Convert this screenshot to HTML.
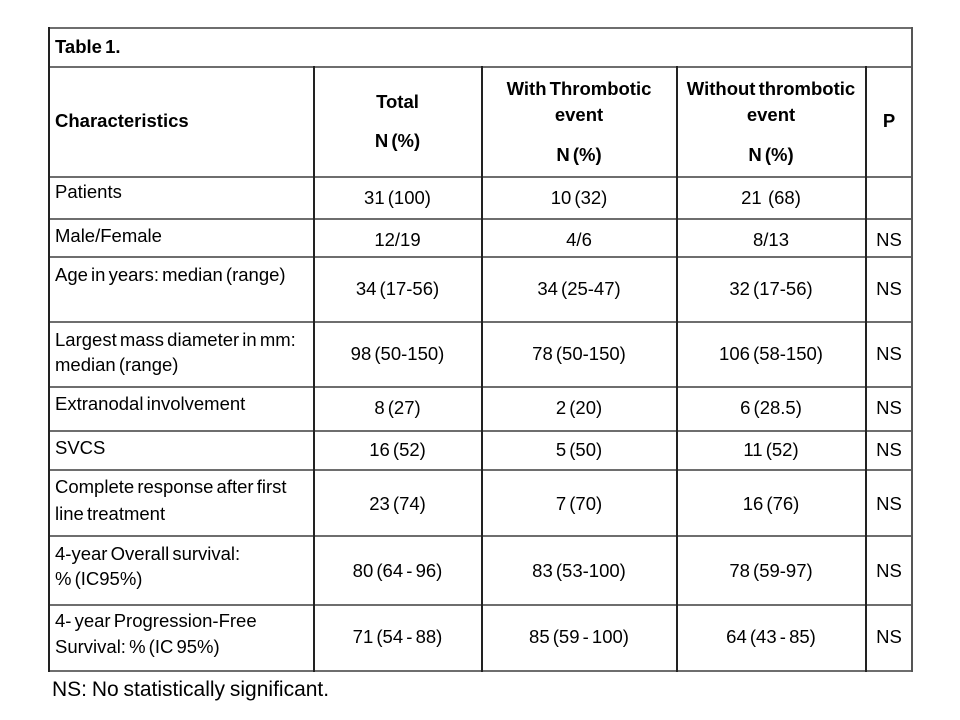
<!DOCTYPE html>
<html><head><meta charset="utf-8"><style>
body{margin:0;width:960px;height:720px;background:#fff;position:relative;overflow:hidden;font-family:"Liberation Sans",Arial,sans-serif;font-size:18.5px;color:#000}
.h{position:absolute;height:2px;background:#6e6e6e;left:48px;width:865px}
.v{position:absolute;width:2px;background:#222}
.t{position:absolute;height:20px;line-height:20px;white-space:nowrap;word-spacing:-2px}
.c{text-align:center}
b{font-weight:bold}
</style></head><body>
<div class="h" style="top:27px"></div>
<div class="h" style="top:66px"></div>
<div class="h" style="top:176px"></div>
<div class="h" style="top:218px"></div>
<div class="h" style="top:256px"></div>
<div class="h" style="top:321px"></div>
<div class="h" style="top:386px"></div>
<div class="h" style="top:430px"></div>
<div class="h" style="top:469px"></div>
<div class="h" style="top:535px"></div>
<div class="h" style="top:604px"></div>
<div class="h" style="top:670px"></div>
<div class="v" style="left:48px;top:27px;height:645px"></div>
<div class="v" style="left:911px;top:27px;height:645px;background:#555"></div>
<div class="v" style="left:313px;top:66px;height:606px"></div>
<div class="v" style="left:481px;top:66px;height:606px"></div>
<div class="v" style="left:676px;top:66px;height:606px"></div>
<div class="v" style="left:865px;top:66px;height:606px"></div>

<div class="t" style="left:55px;top:37px"><b>Table 1.</b></div>
<div class="t" style="left:55px;top:111px"><b>Characteristics</b></div>
<div class="t c" style="left:314px;width:167px;top:92px"><b>Total</b></div>
<div class="t c" style="left:314px;width:167px;top:131px"><b>N (%)</b></div>
<div class="t c" style="left:482px;width:194px;top:79px"><b>With Thrombotic</b></div>
<div class="t c" style="left:482px;width:194px;top:105px"><b>event</b></div>
<div class="t c" style="left:482px;width:194px;top:145px"><b>N (%)</b></div>
<div class="t c" style="left:677px;width:188px;top:79px"><b>Without thrombotic</b></div>
<div class="t c" style="left:677px;width:188px;top:105px"><b>event</b></div>
<div class="t c" style="left:677px;width:188px;top:145px"><b>N (%)</b></div>
<div class="t c" style="left:866px;width:46px;top:111px"><b>P</b></div>

<div class="t" style="left:55px;top:182px">Patients</div>
<div class="t c" style="left:314px;width:167px;top:188px">31 (100)</div>
<div class="t c" style="left:482px;width:194px;top:188px">10 (32)</div>
<div class="t c" style="left:677px;width:188px;top:188px">21 &nbsp;(68)</div>

<div class="t" style="left:55px;top:226px">Male/Female</div>
<div class="t c" style="left:314px;width:167px;top:230px">12/19</div>
<div class="t c" style="left:482px;width:194px;top:230px">4/6</div>
<div class="t c" style="left:677px;width:188px;top:230px">8/13</div>
<div class="t c" style="left:866px;width:46px;top:230px">NS</div>

<div class="t" style="left:55px;top:265px">Age in years: median (range)</div>
<div class="t c" style="left:314px;width:167px;top:279px">34 (17-56)</div>
<div class="t c" style="left:482px;width:194px;top:279px">34 (25-47)</div>
<div class="t c" style="left:677px;width:188px;top:279px">32 (17-56)</div>
<div class="t c" style="left:866px;width:46px;top:279px">NS</div>

<div class="t" style="left:55px;top:330px">Largest mass diameter in mm:</div>
<div class="t" style="left:55px;top:355px">median (range)</div>
<div class="t c" style="left:314px;width:167px;top:344px">98 (50-150)</div>
<div class="t c" style="left:482px;width:194px;top:344px">78 (50-150)</div>
<div class="t c" style="left:677px;width:188px;top:344px">106 (58-150)</div>
<div class="t c" style="left:866px;width:46px;top:344px">NS</div>

<div class="t" style="left:55px;top:394px">Extranodal involvement</div>
<div class="t c" style="left:314px;width:167px;top:398px">8 (27)</div>
<div class="t c" style="left:482px;width:194px;top:398px">2 (20)</div>
<div class="t c" style="left:677px;width:188px;top:398px">6 (28.5)</div>
<div class="t c" style="left:866px;width:46px;top:398px">NS</div>

<div class="t" style="left:55px;top:438px">SVCS</div>
<div class="t c" style="left:314px;width:167px;top:440px">16 (52)</div>
<div class="t c" style="left:482px;width:194px;top:440px">5 (50)</div>
<div class="t c" style="left:677px;width:188px;top:440px">11 (52)</div>
<div class="t c" style="left:866px;width:46px;top:440px">NS</div>

<div class="t" style="left:55px;top:477px">Complete response after first</div>
<div class="t" style="left:55px;top:504px">line treatment</div>
<div class="t c" style="left:314px;width:167px;top:494px">23 (74)</div>
<div class="t c" style="left:482px;width:194px;top:494px">7 (70)</div>
<div class="t c" style="left:677px;width:188px;top:494px">16 (76)</div>
<div class="t c" style="left:866px;width:46px;top:494px">NS</div>

<div class="t" style="left:55px;top:544px">4-year Overall survival:</div>
<div class="t" style="left:55px;top:569px">% (IC95%)</div>
<div class="t c" style="left:314px;width:167px;top:561px">80 (64 - 96)</div>
<div class="t c" style="left:482px;width:194px;top:561px">83 (53-100)</div>
<div class="t c" style="left:677px;width:188px;top:561px">78 (59-97)</div>
<div class="t c" style="left:866px;width:46px;top:561px">NS</div>

<div class="t" style="left:55px;top:611px">4- year Progression-Free</div>
<div class="t" style="left:55px;top:637px">Survival: % (IC 95%)</div>
<div class="t c" style="left:314px;width:167px;top:627px">71 (54 - 88)</div>
<div class="t c" style="left:482px;width:194px;top:627px">85 (59 - 100)</div>
<div class="t c" style="left:677px;width:188px;top:627px">64 (43 - 85)</div>
<div class="t c" style="left:866px;width:46px;top:627px">NS</div>

<div class="t" style="left:52px;top:679px;font-size:21px;height:22px;line-height:22px;word-spacing:-1px">NS: No statistically significant.</div>
</body></html>
